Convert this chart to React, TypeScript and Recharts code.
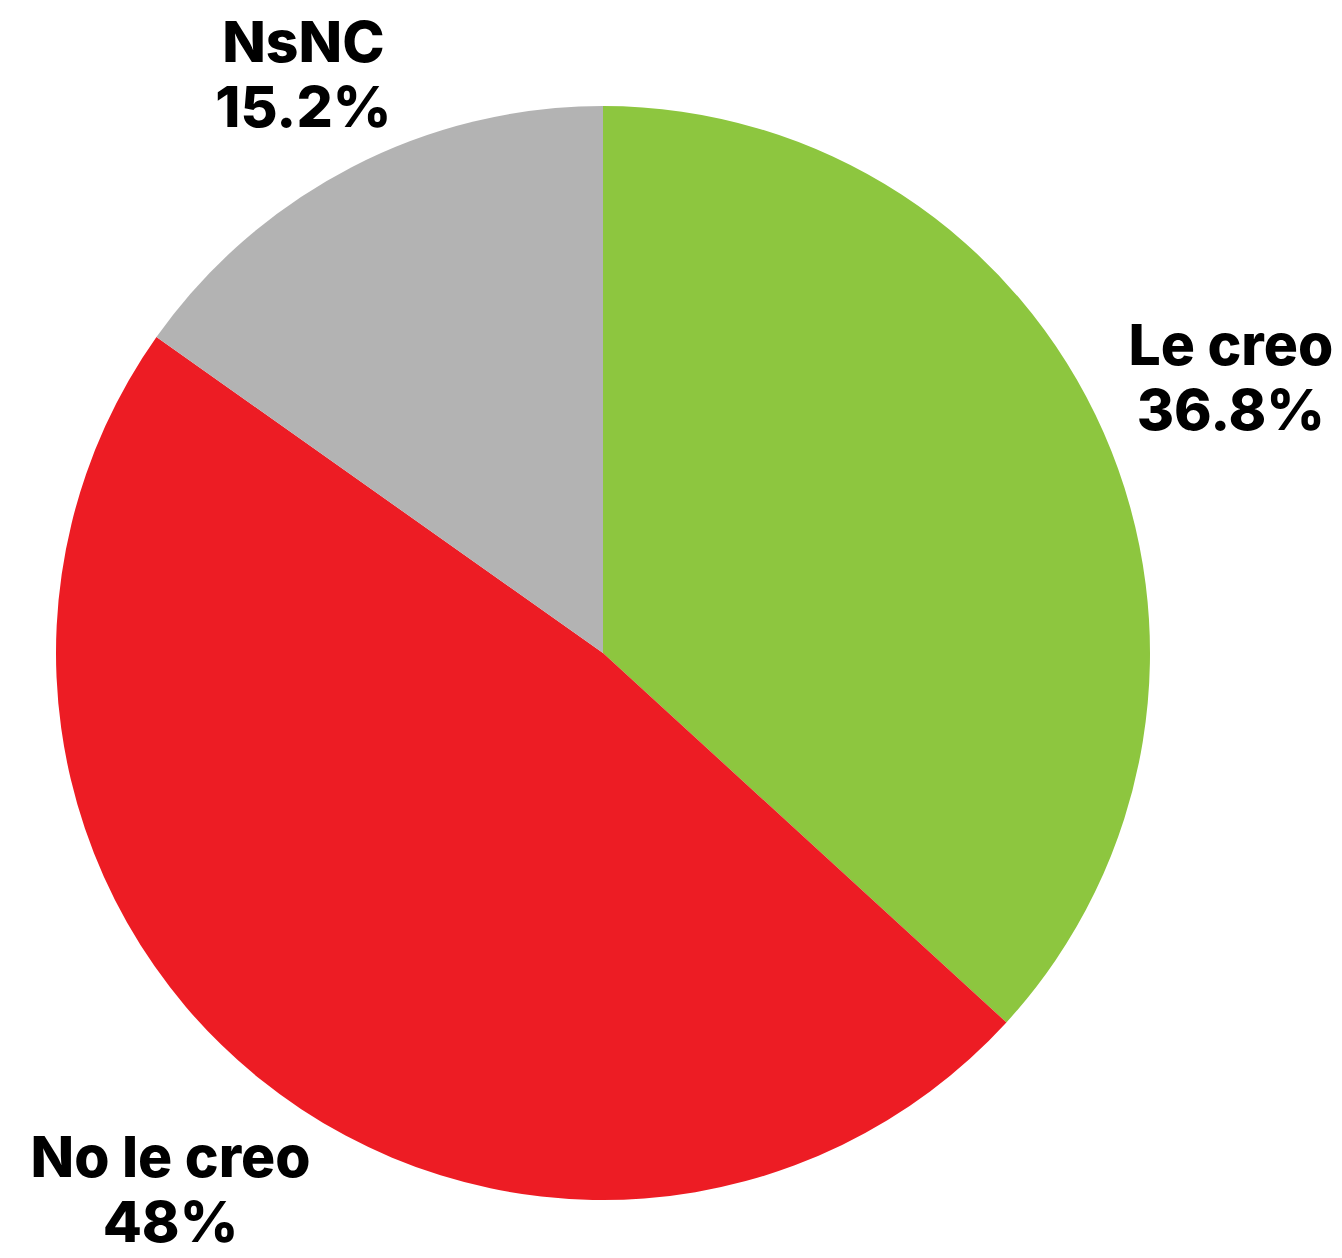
import { PieChart, Pie, Cell } from 'recharts'

const categories = ['Le creo', 'No le creo', 'NsNC']
const shares = [36.8, 48, 15.2]
const colors = ['#8dc63f', '#ed1c24', '#b3b3b3']

const data = categories.map((name, i) => ({ name, value: shares[i] }))

// distance of each label's centre from the pie centre
const labelDistance = [686, 689, 652]

const RADIAN = Math.PI / 180

function renderLabel(props: any) {
  const { cx, cy, midAngle, index, name, value } = props
  const r = labelDistance[index] ?? 690
  const x = cx + r * Math.cos(-midAngle * RADIAN)
  const y = cy + r * Math.sin(-midAngle * RADIAN)
  return (
    <text
      x={x}
      y={y}
      textAnchor="middle"
      fill="#000"
      style={{ fontFamily: 'Inter, sans-serif', fontWeight: 800, fontSize: 57 }}
    >
      <tspan x={x} dy={-12}>{name}</tspan>
      <tspan x={x} dy={65}>{`${value}%`}</tspan>
    </text>
  )
}

export default function App() {
  return (
    <div style={{ position: 'absolute', left: 0, top: 0, background: '#fff' }}>
      <PieChart width={1342} height={1258} margin={{ top: 0, right: 0, bottom: 0, left: 0 }}>
        <Pie
          data={data}
          dataKey="value"
          nameKey="name"
          cx={603}
          cy={653}
          outerRadius={547}
          startAngle={90}
          endAngle={-270}
          stroke="none"
          label={renderLabel}
          labelLine={false}
          isAnimationActive={false}
        >
          {data.map((d, i) => (
            <Cell key={d.name} fill={colors[i]} />
          ))}
        </Pie>
      </PieChart>
    </div>
  )
}
